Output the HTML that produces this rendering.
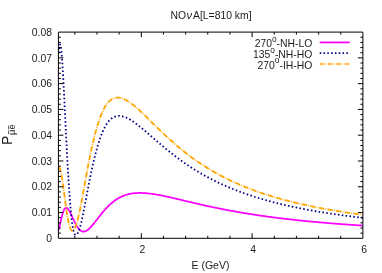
<!DOCTYPE html><html><head><meta charset="utf-8"><style>html,body{margin:0;padding:0;background:#fff}svg{display:block}text{font-family:"Liberation Sans",sans-serif;fill:#1c1c1c}</style></head><body><div style="will-change:transform;width:382px;height:273px">
<svg width="382" height="273" viewBox="0 0 382 273">
<rect width="382" height="273" fill="#fff"/>
<clipPath id="c"><rect x="58.4" y="32.1" width="304.5" height="206.20000000000002"/></clipPath>
<g clip-path="url(#c)" fill="none" stroke-linejoin="round">
<path d="M58.40,230.32 L58.52,230.00 L58.64,229.65 L58.76,229.29 L58.88,228.90 L59.00,228.49 L59.12,228.06 L59.24,227.61 L59.36,227.15 L59.48,226.68 L59.60,226.19 L59.72,225.69 L59.84,225.19 L59.96,224.67 L60.08,224.15 L60.20,223.62 L60.32,223.09 L60.44,222.56 L60.56,222.02 L60.68,221.49 L60.80,220.95 L60.92,220.42 L61.04,219.89 L61.16,219.36 L61.28,218.84 L61.40,218.33 L61.52,217.82 L61.64,217.32 L61.76,216.83 L61.88,216.35 L62.00,215.87 L62.12,215.41 L62.24,214.96 L62.36,214.51 L62.48,214.09 L62.60,213.67 L62.72,213.26 L62.85,212.87 L62.97,212.49 L63.09,212.13 L63.21,211.78 L63.33,211.44 L63.45,211.12 L63.58,210.82 L63.70,210.52 L63.82,210.25 L63.95,209.98 L64.07,209.74 L64.19,209.50 L64.32,209.29 L64.44,209.08 L64.56,208.89 L64.69,208.72 L64.81,208.56 L64.93,208.42 L65.06,208.29 L65.18,208.17 L65.31,208.07 L65.43,207.99 L65.56,207.91 L65.68,207.85 L65.81,207.81 L65.93,207.77 L66.06,207.75 L66.18,207.74 L66.31,207.75 L66.44,207.77 L66.56,207.80 L66.69,207.84 L66.81,207.89 L66.94,207.95 L67.07,208.02 L67.19,208.11 L67.32,208.20 L67.45,208.31 L67.57,208.42 L67.70,208.55 L67.83,208.68 L67.95,208.82 L68.08,208.97 L68.21,209.13 L68.33,209.30 L68.46,209.47 L68.59,209.65 L68.72,209.84 L68.84,210.04 L68.97,210.24 L69.10,210.45 L69.23,210.66 L69.35,210.88 L69.48,211.11 L69.61,211.34 L69.74,211.57 L69.86,211.81 L69.99,212.05 L70.12,212.30 L70.25,212.55 L70.38,212.81 L70.50,213.07 L70.63,213.33 L70.76,213.59 L70.89,213.86 L71.02,214.13 L71.14,214.40 L71.27,214.68 L71.40,214.95 L71.53,215.23 L71.66,215.51 L71.78,215.79 L71.91,216.07 L72.04,216.35 L72.17,216.63 L72.30,216.91 L72.42,217.20 L72.55,217.48 L72.68,217.76 L72.81,218.04 L72.94,218.32 L73.06,218.61 L73.19,218.89 L73.32,219.16 L73.45,219.44 L73.57,219.72 L73.70,219.99 L73.83,220.27 L73.96,220.54 L74.08,220.81 L74.21,221.08 L74.34,221.35 L74.47,221.61 L74.59,221.87 L74.72,222.13 L74.85,222.39 L74.97,222.64 L75.10,222.90 L75.23,223.15 L75.35,223.39 L75.48,223.64 L75.61,223.88 L75.73,224.12 L75.86,224.35 L75.99,224.58 L76.11,224.81 L76.24,225.04 L76.36,225.26 L76.49,225.48 L76.62,225.69 L76.74,225.90 L76.87,226.11 L76.99,226.31 L77.12,226.51 L77.24,226.71 L77.37,226.90 L77.49,227.09 L77.62,227.28 L77.74,227.46 L77.87,227.64 L77.99,227.81 L78.11,227.98 L78.24,228.15 L78.36,228.31 L78.48,228.47 L78.61,228.62 L78.73,228.77 L78.85,228.92 L78.98,229.06 L79.10,229.20 L79.22,229.33 L79.35,229.46 L79.47,229.59 L79.59,229.71 L79.71,229.83 L79.83,229.94 L79.95,230.05 L80.08,230.16 L80.20,230.26 L80.32,230.36 L80.44,230.45 L80.56,230.54 L80.68,230.63 L80.80,230.71 L80.92,230.79 L81.04,230.86 L81.16,230.94 L81.28,231.00 L81.40,231.07 L81.52,231.13 L81.64,231.18 L81.76,231.24 L81.88,231.28 L82.00,231.33 L82.12,231.37 L82.24,231.41 L82.36,231.44 L82.48,231.47 L82.60,231.50 L82.72,231.53 L82.84,231.55 L82.96,231.56 L83.08,231.58 L83.20,231.59 L83.32,231.59 L83.44,231.60 L83.56,231.60 L83.68,231.60 L83.80,231.59 L83.92,231.58 L84.04,231.57 L84.16,231.55 L84.28,231.54 L84.40,231.51 L84.52,231.49 L84.64,231.46 L84.76,231.43 L84.88,231.40 L85.00,231.37 L85.12,231.33 L85.24,231.29 L85.36,231.24 L85.48,231.20 L85.60,231.15 L85.72,231.10 L85.84,231.04 L85.96,230.99 L86.08,230.93 L86.20,230.87 L86.32,230.80 L86.44,230.74 L86.56,230.67 L86.68,230.60 L86.80,230.52 L86.92,230.45 L87.04,230.37 L87.16,230.29 L87.28,230.21 L87.40,230.13 L87.52,230.04 L87.64,229.95 L87.76,229.86 L87.88,229.77 L88.00,229.68 L88.12,229.58 L88.24,229.49 L88.36,229.39 L88.48,229.29 L88.60,229.18 L88.72,229.08 L88.84,228.98 L88.96,228.87 L89.08,228.76 L89.20,228.65 L89.32,228.54 L89.44,228.42 L89.56,228.31 L89.68,228.19 L89.80,228.07 L89.92,227.96 L90.04,227.84 L90.16,227.71 L90.28,227.59 L90.40,227.47 L90.52,227.34 L90.64,227.21 L90.76,227.09 L90.88,226.96 L91.00,226.83 L91.12,226.70 L91.24,226.56 L91.36,226.43 L91.48,226.30 L91.60,226.16 L91.72,226.03 L91.84,225.89 L91.96,225.75 L92.08,225.61 L92.20,225.47 L92.32,225.33 L92.44,225.19 L92.56,225.05 L92.68,224.91 L92.80,224.77 L92.92,224.62 L93.04,224.48 L93.16,224.33 L93.28,224.19 L93.40,224.04 L93.52,223.89 L93.64,223.75 L93.76,223.60 L93.88,223.45 L94.00,223.30 L94.12,223.15 L94.24,223.00 L94.36,222.85 L94.48,222.70 L94.60,222.55 L94.72,222.40 L94.84,222.25 L94.96,222.10 L95.08,221.94 L95.20,221.79 L95.32,221.64 L95.44,221.49 L95.56,221.33 L95.68,221.18 L95.80,221.02 L95.92,220.87 L96.04,220.72 L96.16,220.56 L96.28,220.41 L96.40,220.25 L96.52,220.10 L96.64,219.95 L96.76,219.79 L96.88,219.64 L97.00,219.48 L97.12,219.33 L97.24,219.17 L97.36,219.02 L97.48,218.86 L97.60,218.71 L97.72,218.55 L97.84,218.40 L97.96,218.24 L98.08,218.09 L98.20,217.94 L98.32,217.78 L98.44,217.63 L98.56,217.47 L98.68,217.32 L98.80,217.17 L98.92,217.01 L99.04,216.86 L99.16,216.71 L99.28,216.55 L99.40,216.40 L99.52,216.25 L99.64,216.10 L99.76,215.94 L99.88,215.79 L100.00,215.64 L100.12,215.49 L100.24,215.34 L100.36,215.19 L100.48,215.04 L100.60,214.89 L100.72,214.74 L100.80,214.64 L101.60,213.65 L102.40,212.68 L103.20,211.73 L104.00,210.80 L104.80,209.88 L105.60,209.00 L106.40,208.13 L107.20,207.29 L108.00,206.48 L108.80,205.69 L109.60,204.93 L110.40,204.19 L111.20,203.48 L112.00,202.80 L112.80,202.14 L113.60,201.51 L114.40,200.90 L115.20,200.32 L116.00,199.77 L116.80,199.24 L117.60,198.74 L118.40,198.26 L119.20,197.80 L120.00,197.37 L120.80,196.97 L121.60,196.58 L122.40,196.22 L123.20,195.88 L124.00,195.57 L124.80,195.27 L125.60,195.00 L126.40,194.74 L127.20,194.51 L127.99,194.29 L128.79,194.10 L129.58,193.92 L130.37,193.76 L131.16,193.62 L131.95,193.49 L132.74,193.38 L133.52,193.28 L134.30,193.20 L135.09,193.13 L135.87,193.08 L136.65,193.04 L137.43,193.00 L138.21,192.98 L138.99,192.97 L139.77,192.97 L140.55,192.98 L141.32,192.99 L142.10,193.02 L142.88,193.05 L143.65,193.09 L144.43,193.13 L145.21,193.19 L145.98,193.24 L146.76,193.31 L147.53,193.38 L148.31,193.45 L149.09,193.53 L149.86,193.62 L150.64,193.71 L151.42,193.81 L152.20,193.91 L152.98,194.02 L153.76,194.13 L154.54,194.25 L155.32,194.37 L156.10,194.50 L156.89,194.63 L157.67,194.76 L158.46,194.90 L159.25,195.05 L160.03,195.20 L160.82,195.35 L161.62,195.50 L162.41,195.66 L163.20,195.82 L164.00,195.99 L164.80,196.16 L165.60,196.33 L166.40,196.50 L167.20,196.67 L168.00,196.85 L168.80,197.03 L169.60,197.21 L170.40,197.39 L171.20,197.57 L172.00,197.76 L172.80,197.94 L173.60,198.13 L174.40,198.32 L175.20,198.50 L176.00,198.69 L176.80,198.88 L177.60,199.07 L178.40,199.26 L179.20,199.45 L180.00,199.64 L180.80,199.83 L181.60,200.02 L182.40,200.22 L183.20,200.41 L184.00,200.60 L184.80,200.79 L185.60,200.98 L186.40,201.17 L187.20,201.36 L188.00,201.55 L188.80,201.74 L189.60,201.93 L190.40,202.12 L191.20,202.31 L192.00,202.50 L192.80,202.68 L193.60,202.87 L194.40,203.06 L195.20,203.24 L196.00,203.43 L196.80,203.61 L197.60,203.80 L198.40,203.98 L199.20,204.17 L200.00,204.35 L200.80,204.53 L201.60,204.71 L202.40,204.89 L203.20,205.07 L204.00,205.25 L204.80,205.43 L205.60,205.60 L206.40,205.78 L207.20,205.95 L208.00,206.13 L208.80,206.30 L209.60,206.47 L210.40,206.65 L211.20,206.82 L212.00,206.99 L212.80,207.16 L213.60,207.32 L214.40,207.49 L215.20,207.66 L216.00,207.82 L216.80,207.99 L217.60,208.15 L218.40,208.32 L219.20,208.48 L220.00,208.64 L220.80,208.80 L221.60,208.96 L222.40,209.12 L223.20,209.27 L224.00,209.43 L224.80,209.58 L225.60,209.74 L226.40,209.89 L227.20,210.04 L228.00,210.20 L228.80,210.35 L229.60,210.50 L230.40,210.65 L231.20,210.79 L232.00,210.94 L232.80,211.09 L233.60,211.23 L234.40,211.38 L235.20,211.52 L236.00,211.66 L236.80,211.80 L237.60,211.94 L238.40,212.08 L239.20,212.22 L240.00,212.36 L240.80,212.50 L241.60,212.63 L242.40,212.77 L243.20,212.90 L244.00,213.04 L244.80,213.17 L245.60,213.30 L246.40,213.43 L247.20,213.56 L248.00,213.69 L248.80,213.82 L249.60,213.94 L250.40,214.07 L251.20,214.20 L252.00,214.32 L252.80,214.45 L253.60,214.57 L254.40,214.69 L255.20,214.81 L256.00,214.93 L256.80,215.05 L257.60,215.17 L258.40,215.29 L259.20,215.41 L260.00,215.53 L260.80,215.64 L261.60,215.76 L262.40,215.87 L263.20,215.98 L264.00,216.10 L264.80,216.21 L265.60,216.32 L266.40,216.43 L267.20,216.54 L268.00,216.65 L268.80,216.76 L269.60,216.87 L270.40,216.97 L271.20,217.08 L272.00,217.19 L272.80,217.29 L273.60,217.39 L274.40,217.50 L275.20,217.60 L276.00,217.70 L276.80,217.80 L277.60,217.90 L278.40,218.00 L279.20,218.10 L280.00,218.20 L280.80,218.30 L281.60,218.40 L282.40,218.49 L283.20,218.59 L284.00,218.69 L284.80,218.78 L285.60,218.87 L286.40,218.97 L287.20,219.06 L288.00,219.15 L288.80,219.24 L289.60,219.33 L290.40,219.43 L291.20,219.52 L292.00,219.60 L292.80,219.69 L293.60,219.78 L294.40,219.87 L295.20,219.96 L296.00,220.04 L296.80,220.13 L297.60,220.21 L298.40,220.30 L299.20,220.38 L300.00,220.46 L300.80,220.55 L301.60,220.63 L302.40,220.71 L303.20,220.79 L304.00,220.87 L304.80,220.95 L305.60,221.03 L306.40,221.11 L307.20,221.19 L308.00,221.27 L308.80,221.35 L309.60,221.42 L310.40,221.50 L311.20,221.58 L312.00,221.65 L312.80,221.73 L313.60,221.80 L314.40,221.88 L315.20,221.95 L316.00,222.02 L316.80,222.10 L317.60,222.17 L318.40,222.24 L319.20,222.31 L320.00,222.38 L320.80,222.45 L321.60,222.52 L322.40,222.59 L323.20,222.66 L324.00,222.73 L324.80,222.80 L325.60,222.87 L326.40,222.93 L327.20,223.00 L328.00,223.07 L328.80,223.13 L329.60,223.20 L330.40,223.27 L331.20,223.33 L332.00,223.40 L332.80,223.46 L333.60,223.52 L334.40,223.59 L335.20,223.65 L336.00,223.71 L336.80,223.77 L337.60,223.84 L338.40,223.90 L339.20,223.96 L340.00,224.02 L340.80,224.08 L341.60,224.14 L342.40,224.20 L343.20,224.26 L344.00,224.32 L344.80,224.37 L345.60,224.43 L346.40,224.49 L347.20,224.55 L348.00,224.60 L348.80,224.66 L349.60,224.72 L350.40,224.77 L351.20,224.83 L352.00,224.88 L352.80,224.94 L353.60,224.99 L354.40,225.05 L355.20,225.10 L356.00,225.16 L356.80,225.21 L357.60,225.26 L358.40,225.31 L359.20,225.37 L360.00,225.42 L360.80,225.47 L361.60,225.52 L362.40,225.57 L362.90,225.60" stroke="#ff00ff" stroke-width="1.75"/>
<path d="M58.40,55.30 L58.52,53.53 L58.66,51.93 L58.80,50.50 L58.94,49.22 L59.09,48.10 L59.25,47.13 L59.40,46.32 L59.55,45.66 L59.71,45.15 L59.85,44.78 L60.00,44.55 L60.13,44.47 L60.26,44.51 L60.38,44.69 L60.50,45.00 L60.62,45.43 L60.74,45.98 L60.86,46.65 L60.98,47.44 L61.10,48.33 L61.22,49.32 L61.34,50.42 L61.46,51.62 L61.58,52.90 L61.70,54.28 L61.82,55.74 L61.94,57.29 L62.06,58.91 L62.18,60.61 L62.30,62.37 L62.42,64.21 L62.54,66.10 L62.66,68.06 L62.78,70.07 L62.90,72.13 L63.02,74.24 L63.14,76.40 L63.26,78.60 L63.38,80.84 L63.50,83.11 L63.62,85.41 L63.74,87.75 L63.86,90.11 L63.98,92.50 L64.10,94.90 L64.22,97.33 L64.34,99.76 L64.46,102.22 L64.58,104.68 L64.70,107.15 L64.82,109.63 L64.94,112.11 L65.06,114.59 L65.18,117.08 L65.30,119.56 L65.42,122.03 L65.54,124.50 L65.66,126.96 L65.78,129.41 L65.90,131.85 L66.02,134.28 L66.14,136.69 L66.26,139.08 L66.38,141.46 L66.50,143.82 L66.62,146.16 L66.74,148.48 L66.86,150.78 L66.98,153.05 L67.10,155.30 L67.22,157.53 L67.34,159.73 L67.46,161.90 L67.58,164.04 L67.70,166.16 L67.82,168.25 L67.94,170.30 L68.06,172.33 L68.18,174.33 L68.30,176.29 L68.42,178.22 L68.54,180.12 L68.66,181.99 L68.77,183.83 L68.89,185.63 L69.01,187.40 L69.12,189.13 L69.24,190.83 L69.35,192.50 L69.47,194.13 L69.58,195.73 L69.70,197.29 L69.81,198.82 L69.92,200.31 L70.04,201.77 L70.15,203.20 L70.26,204.59 L70.37,205.94 L70.48,207.27 L70.59,208.55 L70.71,209.81 L70.82,211.02 L70.93,212.21 L71.04,213.36 L71.15,214.48 L71.26,215.56 L71.37,216.61 L71.48,217.63 L71.59,218.61 L71.71,219.57 L71.82,220.49 L71.93,221.37 L72.04,222.23 L72.15,223.06 L72.26,223.85 L72.38,224.61 L72.49,225.35 L72.60,226.05 L72.72,226.72 L72.83,227.37 L72.95,227.98 L73.06,228.57 L73.18,229.13 L73.29,229.66 L73.41,230.16 L73.53,230.64 L73.64,231.08 L73.76,231.51 L73.88,231.90 L74.00,232.27 L74.12,232.62 L74.24,232.93 L74.36,233.23 L74.48,233.50 L74.60,233.75 L74.72,233.97 L74.84,234.17 L74.96,234.35 L75.08,234.50 L75.20,234.63 L75.32,234.75 L75.44,234.84 L75.56,234.91 L75.68,234.95 L75.80,234.98 L75.92,234.99 L76.04,234.98 L76.16,234.95 L76.28,234.91 L76.41,234.84 L76.53,234.76 L76.65,234.66 L76.78,234.54 L76.90,234.40 L77.03,234.25 L77.16,234.08 L77.28,233.90 L77.41,233.70 L77.54,233.49 L77.67,233.26 L77.80,233.01 L77.93,232.76 L78.06,232.49 L78.19,232.20 L78.32,231.91 L78.45,231.60 L78.58,231.27 L78.72,230.94 L78.85,230.59 L78.98,230.23 L79.11,229.86 L79.24,229.48 L79.38,229.09 L79.51,228.69 L79.64,228.28 L79.77,227.86 L79.90,227.43 L80.03,226.99 L80.17,226.54 L80.30,226.08 L80.43,225.62 L80.56,225.14 L80.69,224.66 L80.82,224.17 L80.94,223.67 L81.07,223.17 L81.20,222.65 L81.33,222.14 L81.45,221.61 L81.58,221.08 L81.71,220.54 L81.83,220.00 L81.95,219.45 L82.08,218.89 L82.20,218.33 L82.32,217.77 L82.44,217.20 L82.56,216.62 L82.68,216.05 L82.80,215.46 L82.92,214.88 L83.04,214.28 L83.16,213.69 L83.28,213.09 L83.40,212.49 L83.52,211.88 L83.64,211.28 L83.76,210.67 L83.88,210.05 L84.00,209.44 L84.12,208.82 L84.24,208.20 L84.36,207.58 L84.48,206.95 L84.60,206.32 L84.72,205.70 L84.84,205.07 L84.96,204.44 L85.08,203.81 L85.20,203.17 L85.32,202.54 L85.44,201.90 L85.56,201.27 L85.68,200.63 L85.80,199.99 L85.92,199.36 L86.04,198.72 L86.16,198.08 L86.28,197.45 L86.40,196.81 L86.52,196.17 L86.64,195.53 L86.76,194.90 L86.88,194.26 L87.00,193.62 L87.12,192.99 L87.24,192.35 L87.36,191.72 L87.48,191.09 L87.60,190.46 L87.72,189.83 L87.84,189.20 L87.96,188.57 L88.08,187.94 L88.20,187.32 L88.32,186.69 L88.44,186.07 L88.56,185.45 L88.68,184.83 L88.80,184.21 L88.92,183.59 L89.04,182.98 L89.16,182.37 L89.28,181.76 L89.40,181.15 L89.52,180.54 L89.64,179.94 L89.76,179.34 L89.88,178.74 L90.00,178.14 L90.12,177.54 L90.24,176.95 L90.36,176.36 L90.48,175.77 L90.60,175.19 L90.72,174.60 L90.84,174.02 L90.96,173.44 L91.08,172.87 L91.20,172.30 L91.32,171.73 L91.44,171.16 L91.56,170.59 L91.68,170.03 L91.80,169.47 L91.92,168.92 L92.04,168.36 L92.16,167.81 L92.28,167.27 L92.40,166.72 L92.52,166.18 L92.64,165.64 L92.76,165.11 L92.88,164.57 L93.00,164.04 L93.12,163.52 L93.24,162.99 L93.36,162.47 L93.48,161.96 L93.60,161.44 L93.72,160.93 L93.84,160.42 L93.96,159.92 L94.08,159.42 L94.20,158.92 L94.32,158.43 L94.44,157.93 L94.56,157.45 L94.68,156.96 L94.80,156.48 L94.92,156.00 L95.04,155.53 L95.16,155.05 L95.28,154.58 L95.40,154.12 L95.52,153.66 L95.64,153.20 L95.76,152.74 L95.88,152.29 L96.00,151.84 L96.12,151.40 L96.24,150.95 L96.36,150.51 L96.48,150.08 L96.60,149.65 L96.72,149.22 L96.84,148.79 L96.96,148.37 L97.08,147.95 L97.20,147.53 L97.32,147.12 L97.44,146.71 L97.56,146.30 L97.68,145.90 L97.80,145.50 L97.92,145.11 L98.04,144.71 L98.16,144.32 L98.28,143.94 L98.40,143.55 L98.52,143.17 L98.64,142.80 L98.76,142.42 L98.88,142.05 L99.00,141.69 L99.12,141.32 L99.24,140.96 L99.35,140.60 L99.47,140.25 L99.59,139.90 L99.71,139.55 L99.83,139.21 L99.95,138.86 L100.06,138.52 L100.18,138.19 L100.30,137.86 L100.38,137.64 L101.16,135.52 L101.93,133.53 L102.71,131.67 L103.48,129.94 L104.24,128.34 L105.01,126.85 L105.77,125.48 L106.54,124.22 L107.31,123.07 L108.08,122.02 L108.85,121.06 L109.63,120.21 L110.41,119.44 L111.20,118.76 L112.00,118.16 L112.80,117.64 L113.60,117.20 L114.40,116.82 L115.20,116.52 L116.00,116.28 L116.80,116.10 L117.60,115.98 L118.40,115.91 L119.20,115.90 L120.00,115.93 L120.80,116.01 L121.60,116.14 L122.40,116.31 L123.20,116.52 L124.00,116.76 L124.80,117.04 L125.60,117.36 L126.40,117.70 L127.20,118.07 L128.00,118.47 L128.80,118.90 L129.60,119.35 L130.40,119.82 L131.20,120.31 L132.00,120.82 L132.80,121.36 L133.60,121.90 L134.40,122.47 L135.20,123.04 L136.00,123.63 L136.80,124.24 L137.60,124.85 L138.40,125.47 L139.20,126.11 L140.00,126.75 L140.80,127.40 L141.60,128.06 L142.40,128.72 L143.20,129.39 L144.00,130.07 L144.80,130.75 L145.60,131.43 L146.40,132.12 L147.20,132.80 L148.00,133.50 L148.80,134.19 L149.60,134.88 L150.40,135.58 L151.20,136.27 L152.00,136.97 L152.80,137.67 L153.60,138.36 L154.40,139.06 L155.20,139.75 L156.00,140.44 L156.80,141.13 L157.60,141.82 L158.40,142.51 L159.20,143.19 L160.00,143.88 L160.80,144.55 L161.60,145.23 L162.40,145.90 L163.20,146.57 L164.00,147.24 L164.80,147.91 L165.60,148.57 L166.40,149.22 L167.20,149.87 L168.00,150.52 L168.80,151.17 L169.60,151.81 L170.40,152.45 L171.20,153.08 L172.00,153.71 L172.80,154.33 L173.60,154.95 L174.40,155.57 L175.20,156.18 L176.00,156.79 L176.80,157.39 L177.60,157.99 L178.40,158.58 L179.20,159.17 L180.00,159.75 L180.80,160.33 L181.60,160.91 L182.40,161.48 L183.20,162.04 L184.00,162.60 L184.80,163.16 L185.60,163.71 L186.40,164.26 L187.20,164.80 L188.00,165.34 L188.80,165.88 L189.60,166.41 L190.40,166.93 L191.20,167.45 L192.00,167.97 L192.80,168.48 L193.60,168.98 L194.40,169.49 L195.20,169.99 L196.00,170.48 L196.80,170.97 L197.60,171.45 L198.40,171.93 L199.20,172.41 L200.00,172.88 L200.80,173.35 L201.60,173.81 L202.40,174.27 L203.20,174.73 L204.00,175.18 L204.80,175.63 L205.60,176.07 L206.40,176.51 L207.20,176.95 L208.00,177.38 L208.80,177.81 L209.60,178.23 L210.40,178.65 L211.20,179.07 L212.00,179.48 L212.80,179.89 L213.60,180.29 L214.40,180.69 L215.20,181.09 L216.00,181.48 L216.80,181.87 L217.60,182.26 L218.40,182.64 L219.20,183.02 L220.00,183.40 L220.80,183.77 L221.60,184.14 L222.40,184.51 L223.20,184.87 L224.00,185.23 L224.80,185.59 L225.60,185.94 L226.40,186.29 L227.20,186.64 L228.00,186.98 L228.80,187.32 L229.60,187.66 L230.40,187.99 L231.20,188.32 L232.00,188.65 L232.80,188.98 L233.60,189.30 L234.40,189.62 L235.20,189.94 L236.00,190.25 L236.80,190.56 L237.60,190.87 L238.40,191.17 L239.20,191.48 L240.00,191.78 L240.80,192.07 L241.60,192.37 L242.40,192.66 L243.20,192.95 L244.00,193.24 L244.80,193.52 L245.60,193.80 L246.40,194.08 L247.20,194.36 L248.00,194.64 L248.80,194.91 L249.60,195.18 L250.40,195.45 L251.20,195.71 L252.00,195.97 L252.80,196.23 L253.60,196.49 L254.40,196.75 L255.20,197.00 L256.00,197.25 L256.80,197.50 L257.60,197.75 L258.40,198.00 L259.20,198.24 L260.00,198.48 L260.80,198.72 L261.60,198.96 L262.40,199.19 L263.20,199.42 L264.00,199.66 L264.80,199.89 L265.60,200.11 L266.40,200.34 L267.20,200.56 L268.00,200.78 L268.80,201.00 L269.60,201.22 L270.40,201.44 L271.20,201.65 L272.00,201.86 L272.80,202.07 L273.60,202.28 L274.40,202.49 L275.20,202.69 L276.00,202.90 L276.80,203.10 L277.60,203.30 L278.40,203.50 L279.20,203.70 L280.00,203.89 L280.80,204.09 L281.60,204.28 L282.40,204.47 L283.20,204.66 L284.00,204.85 L284.80,205.03 L285.60,205.22 L286.40,205.40 L287.20,205.58 L288.00,205.76 L288.80,205.94 L289.60,206.12 L290.40,206.29 L291.20,206.47 L292.00,206.64 L292.80,206.81 L293.60,206.98 L294.40,207.15 L295.20,207.32 L296.00,207.49 L296.80,207.65 L297.60,207.82 L298.40,207.98 L299.20,208.14 L300.00,208.30 L300.80,208.46 L301.60,208.62 L302.40,208.77 L303.20,208.93 L304.00,209.08 L304.80,209.24 L305.60,209.39 L306.40,209.54 L307.20,209.69 L308.00,209.84 L308.80,209.98 L309.60,210.13 L310.40,210.28 L311.20,210.42 L312.00,210.56 L312.80,210.70 L313.60,210.84 L314.40,210.98 L315.20,211.12 L316.00,211.26 L316.80,211.40 L317.60,211.53 L318.40,211.67 L319.20,211.80 L320.00,211.93 L320.80,212.06 L321.60,212.20 L322.40,212.32 L323.20,212.45 L324.00,212.58 L324.80,212.71 L325.60,212.83 L326.40,212.96 L327.20,213.08 L328.00,213.21 L328.80,213.33 L329.60,213.45 L330.40,213.57 L331.20,213.69 L332.00,213.81 L332.80,213.93 L333.60,214.04 L334.40,214.16 L335.20,214.28 L336.00,214.39 L336.80,214.50 L337.60,214.62 L338.40,214.73 L339.20,214.84 L340.00,214.95 L340.80,215.06 L341.60,215.17 L342.40,215.28 L343.20,215.39 L344.00,215.49 L344.80,215.60 L345.60,215.71 L346.40,215.81 L347.20,215.91 L348.00,216.02 L348.80,216.12 L349.60,216.22 L350.40,216.32 L351.20,216.42 L352.00,216.52 L352.80,216.62 L353.60,216.72 L354.40,216.82 L355.20,216.92 L356.00,217.01 L356.80,217.11 L357.60,217.20 L358.40,217.30 L359.20,217.39 L360.00,217.48 L360.80,217.58 L361.60,217.67 L362.40,217.76 L362.90,217.82" stroke="#00008b" stroke-width="1.8" stroke-dasharray="1.55 2.35" stroke-dashoffset="1.6"/>
<path d="M58.40,168.45 L58.52,168.22 L58.64,168.02 L58.76,167.87 L58.88,167.76 L59.00,167.69 L59.12,167.67 L59.24,167.68 L59.36,167.74 L59.48,167.84 L59.60,167.97 L59.72,168.15 L59.84,168.36 L59.96,168.61 L60.08,168.90 L60.20,169.22 L60.32,169.58 L60.44,169.97 L60.56,170.39 L60.68,170.85 L60.80,171.34 L60.92,171.86 L61.04,172.41 L61.16,172.98 L61.28,173.58 L61.40,174.21 L61.52,174.86 L61.64,175.54 L61.76,176.24 L61.88,176.96 L62.00,177.70 L62.12,178.46 L62.24,179.24 L62.36,180.03 L62.48,180.84 L62.60,181.67 L62.72,182.51 L62.84,183.36 L62.96,184.22 L63.08,185.10 L63.20,185.98 L63.32,186.87 L63.44,187.77 L63.56,188.68 L63.68,189.59 L63.80,190.51 L63.92,191.43 L64.04,192.35 L64.16,193.27 L64.28,194.20 L64.40,195.12 L64.52,196.04 L64.64,196.97 L64.76,197.88 L64.88,198.80 L65.00,199.71 L65.12,200.62 L65.24,201.52 L65.36,202.42 L65.48,203.31 L65.60,204.19 L65.72,205.06 L65.84,205.93 L65.96,206.78 L66.08,207.63 L66.20,208.47 L66.32,209.29 L66.44,210.11 L66.56,210.91 L66.68,211.70 L66.80,212.47 L66.92,213.24 L67.04,213.99 L67.16,214.73 L67.28,215.45 L67.40,216.16 L67.52,216.85 L67.64,217.53 L67.76,218.19 L67.88,218.84 L68.00,219.47 L68.12,220.09 L68.24,220.69 L68.36,221.27 L68.48,221.84 L68.60,222.39 L68.72,222.92 L68.84,223.43 L68.96,223.93 L69.08,224.41 L69.20,224.88 L69.32,225.33 L69.44,225.76 L69.56,226.17 L69.68,226.56 L69.80,226.94 L69.92,227.30 L70.04,227.64 L70.16,227.96 L70.28,228.27 L70.40,228.56 L70.52,228.83 L70.64,229.09 L70.76,229.32 L70.88,229.54 L71.00,229.75 L71.12,229.93 L71.24,230.10 L71.36,230.25 L71.48,230.39 L71.60,230.50 L71.72,230.61 L71.84,230.69 L71.96,230.76 L72.08,230.81 L72.20,230.85 L72.32,230.87 L72.44,230.88 L72.56,230.87 L72.68,230.84 L72.80,230.80 L72.92,230.74 L73.04,230.67 L73.16,230.59 L73.28,230.49 L73.40,230.37 L73.52,230.24 L73.64,230.10 L73.76,229.94 L73.88,229.77 L74.00,229.59 L74.12,229.39 L74.24,229.18 L74.36,228.96 L74.49,228.72 L74.61,228.47 L74.74,228.21 L74.86,227.94 L74.99,227.65 L75.11,227.36 L75.24,227.05 L75.37,226.73 L75.50,226.40 L75.63,226.06 L75.76,225.71 L75.89,225.35 L76.02,224.97 L76.15,224.59 L76.28,224.20 L76.41,223.80 L76.54,223.39 L76.67,222.96 L76.80,222.53 L76.94,222.10 L77.07,221.65 L77.20,221.19 L77.33,220.73 L77.46,220.26 L77.60,219.78 L77.73,219.29 L77.86,218.79 L77.99,218.29 L78.12,217.78 L78.25,217.27 L78.38,216.74 L78.51,216.21 L78.64,215.68 L78.77,215.13 L78.90,214.59 L79.03,214.03 L79.16,213.47 L79.29,212.90 L79.41,212.33 L79.54,211.76 L79.66,211.18 L79.79,210.59 L79.91,210.00 L80.04,209.40 L80.16,208.80 L80.28,208.20 L80.40,207.59 L80.52,206.98 L80.64,206.37 L80.76,205.75 L80.88,205.12 L81.00,204.50 L81.12,203.87 L81.24,203.24 L81.36,202.60 L81.48,201.96 L81.60,201.32 L81.72,200.68 L81.84,200.04 L81.96,199.39 L82.08,198.74 L82.20,198.09 L82.32,197.43 L82.44,196.78 L82.56,196.12 L82.68,195.46 L82.80,194.81 L82.92,194.14 L83.04,193.48 L83.16,192.82 L83.28,192.16 L83.40,191.49 L83.52,190.83 L83.64,190.16 L83.76,189.50 L83.88,188.83 L84.00,188.16 L84.12,187.50 L84.24,186.83 L84.36,186.16 L84.48,185.50 L84.60,184.83 L84.72,184.16 L84.84,183.50 L84.96,182.83 L85.08,182.17 L85.20,181.50 L85.32,180.84 L85.44,180.18 L85.56,179.51 L85.68,178.85 L85.80,178.19 L85.92,177.53 L86.04,176.88 L86.16,176.22 L86.28,175.56 L86.40,174.91 L86.52,174.26 L86.64,173.61 L86.76,172.96 L86.88,172.31 L87.00,171.66 L87.12,171.02 L87.24,170.38 L87.36,169.73 L87.48,169.10 L87.60,168.46 L87.72,167.82 L87.84,167.19 L87.96,166.56 L88.08,165.93 L88.20,165.30 L88.32,164.68 L88.44,164.06 L88.56,163.44 L88.68,162.82 L88.80,162.21 L88.92,161.59 L89.04,160.98 L89.16,160.37 L89.28,159.77 L89.40,159.17 L89.52,158.57 L89.64,157.97 L89.76,157.38 L89.88,156.78 L90.00,156.19 L90.12,155.61 L90.24,155.02 L90.36,154.44 L90.48,153.87 L90.60,153.29 L90.72,152.72 L90.84,152.15 L90.96,151.58 L91.08,151.02 L91.20,150.46 L91.32,149.90 L91.44,149.35 L91.56,148.80 L91.68,148.25 L91.80,147.70 L91.92,147.16 L92.04,146.62 L92.16,146.09 L92.28,145.56 L92.40,145.03 L92.52,144.50 L92.64,143.98 L92.76,143.46 L92.88,142.94 L93.00,142.43 L93.12,141.92 L93.24,141.41 L93.36,140.91 L93.48,140.41 L93.60,139.91 L93.72,139.42 L93.84,138.93 L93.96,138.44 L94.08,137.96 L94.20,137.48 L94.32,137.00 L94.44,136.52 L94.56,136.05 L94.68,135.59 L94.80,135.12 L94.92,134.66 L95.04,134.21 L95.16,133.75 L95.28,133.30 L95.40,132.85 L95.52,132.41 L95.64,131.97 L95.76,131.53 L95.88,131.10 L96.00,130.67 L96.12,130.24 L96.24,129.82 L96.36,129.39 L96.48,128.98 L96.60,128.56 L96.72,128.15 L96.84,127.74 L96.96,127.34 L97.08,126.94 L97.20,126.54 L97.32,126.15 L97.43,125.76 L97.55,125.37 L97.67,124.98 L97.79,124.60 L97.91,124.22 L98.02,123.85 L98.14,123.48 L98.26,123.11 L98.38,122.74 L98.50,122.38 L98.61,122.02 L98.73,121.67 L98.85,121.32 L98.96,120.97 L99.08,120.62 L99.20,120.28 L99.31,119.94 L99.43,119.60 L99.55,119.27 L99.66,118.94 L99.78,118.61 L99.90,118.29 L100.01,117.97 L100.13,117.65 L100.24,117.33 L100.32,117.13 L101.09,115.12 L101.86,113.24 L102.63,111.50 L103.39,109.87 L104.16,108.37 L104.92,106.99 L105.69,105.72 L106.47,104.56 L107.24,103.50 L108.02,102.55 L108.81,101.69 L109.60,100.92 L110.40,100.25 L111.20,99.66 L112.00,99.15 L112.80,98.72 L113.60,98.36 L114.40,98.08 L115.20,97.86 L116.00,97.71 L116.80,97.61 L117.60,97.58 L118.40,97.60 L119.20,97.67 L120.00,97.80 L120.80,97.96 L121.60,98.18 L122.40,98.43 L123.20,98.73 L124.00,99.06 L124.80,99.43 L125.60,99.83 L126.40,100.27 L127.20,100.73 L128.00,101.22 L128.80,101.74 L129.60,102.28 L130.40,102.84 L131.20,103.42 L132.00,104.03 L132.80,104.65 L133.60,105.29 L134.40,105.94 L135.20,106.61 L136.00,107.30 L136.80,107.99 L137.60,108.70 L138.40,109.42 L139.20,110.15 L140.00,110.88 L140.80,111.63 L141.60,112.38 L142.40,113.14 L143.20,113.90 L144.00,114.67 L144.80,115.44 L145.60,116.22 L146.40,117.00 L147.20,117.78 L148.00,118.57 L148.80,119.36 L149.60,120.14 L150.40,120.93 L151.20,121.72 L152.00,122.51 L152.80,123.30 L153.60,124.09 L154.40,124.88 L155.20,125.66 L156.00,126.45 L156.80,127.23 L157.60,128.01 L158.40,128.79 L159.20,129.56 L160.00,130.33 L160.80,131.10 L161.60,131.87 L162.40,132.63 L163.20,133.39 L164.00,134.14 L164.80,134.90 L165.60,135.64 L166.40,136.39 L167.20,137.13 L168.00,137.86 L168.80,138.59 L169.60,139.32 L170.40,140.04 L171.20,140.76 L172.00,141.47 L172.80,142.18 L173.60,142.88 L174.40,143.58 L175.20,144.27 L176.00,144.96 L176.80,145.64 L177.60,146.32 L178.40,146.99 L179.20,147.66 L180.00,148.32 L180.80,148.98 L181.60,149.63 L182.40,150.28 L183.20,150.92 L184.00,151.56 L184.80,152.19 L185.60,152.82 L186.40,153.44 L187.20,154.06 L188.00,154.67 L188.80,155.28 L189.60,155.88 L190.40,156.47 L191.20,157.07 L192.00,157.65 L192.80,158.23 L193.60,158.81 L194.40,159.38 L195.20,159.95 L196.00,160.51 L196.80,161.07 L197.60,161.62 L198.40,162.17 L199.20,162.71 L200.00,163.25 L200.80,163.78 L201.60,164.31 L202.40,164.83 L203.20,165.35 L204.00,165.86 L204.80,166.37 L205.60,166.88 L206.40,167.38 L207.20,167.87 L208.00,168.37 L208.80,168.85 L209.60,169.34 L210.40,169.82 L211.20,170.29 L212.00,170.76 L212.80,171.23 L213.60,171.69 L214.40,172.15 L215.20,172.60 L216.00,173.05 L216.80,173.49 L217.60,173.94 L218.40,174.37 L219.20,174.81 L220.00,175.24 L220.80,175.66 L221.60,176.08 L222.40,176.50 L223.20,176.92 L224.00,177.33 L224.80,177.73 L225.60,178.14 L226.40,178.54 L227.20,178.93 L228.00,179.33 L228.80,179.72 L229.60,180.10 L230.40,180.48 L231.20,180.86 L232.00,181.24 L232.80,181.61 L233.60,181.98 L234.40,182.34 L235.20,182.71 L236.00,183.07 L236.80,183.42 L237.60,183.77 L238.40,184.12 L239.20,184.47 L240.00,184.81 L240.80,185.16 L241.60,185.49 L242.40,185.83 L243.20,186.16 L244.00,186.49 L244.80,186.81 L245.60,187.14 L246.40,187.46 L247.20,187.77 L248.00,188.09 L248.80,188.40 L249.60,188.71 L250.40,189.02 L251.20,189.32 L252.00,189.62 L252.80,189.92 L253.60,190.22 L254.40,190.51 L255.20,190.80 L256.00,191.09 L256.80,191.38 L257.60,191.66 L258.40,191.94 L259.20,192.22 L260.00,192.50 L260.80,192.77 L261.60,193.04 L262.40,193.31 L263.20,193.58 L264.00,193.84 L264.80,194.11 L265.60,194.37 L266.40,194.63 L267.20,194.88 L268.00,195.14 L268.80,195.39 L269.60,195.64 L270.40,195.89 L271.20,196.13 L272.00,196.38 L272.80,196.62 L273.60,196.86 L274.40,197.10 L275.20,197.33 L276.00,197.57 L276.80,197.80 L277.60,198.03 L278.40,198.26 L279.20,198.48 L280.00,198.71 L280.80,198.93 L281.60,199.15 L282.40,199.37 L283.20,199.59 L284.00,199.80 L284.80,200.02 L285.60,200.23 L286.40,200.44 L287.20,200.65 L288.00,200.86 L288.80,201.06 L289.60,201.27 L290.40,201.47 L291.20,201.67 L292.00,201.87 L292.80,202.07 L293.60,202.26 L294.40,202.46 L295.20,202.65 L296.00,202.84 L296.80,203.03 L297.60,203.22 L298.40,203.41 L299.20,203.59 L300.00,203.78 L300.80,203.96 L301.60,204.14 L302.40,204.32 L303.20,204.50 L304.00,204.68 L304.80,204.85 L305.60,205.03 L306.40,205.20 L307.20,205.37 L308.00,205.54 L308.80,205.71 L309.60,205.88 L310.40,206.05 L311.20,206.21 L312.00,206.38 L312.80,206.54 L313.60,206.70 L314.40,206.86 L315.20,207.02 L316.00,207.18 L316.80,207.34 L317.60,207.49 L318.40,207.65 L319.20,207.80 L320.00,207.95 L320.80,208.11 L321.60,208.26 L322.40,208.40 L323.20,208.55 L324.00,208.70 L324.80,208.85 L325.60,208.99 L326.40,209.13 L327.20,209.28 L328.00,209.42 L328.80,209.56 L329.60,209.70 L330.40,209.84 L331.20,209.98 L332.00,210.11 L332.80,210.25 L333.60,210.38 L334.40,210.52 L335.20,210.65 L336.00,210.78 L336.80,210.91 L337.60,211.04 L338.40,211.17 L339.20,211.30 L340.00,211.43 L340.80,211.56 L341.60,211.68 L342.40,211.81 L343.20,211.93 L344.00,212.05 L344.80,212.18 L345.60,212.30 L346.40,212.42 L347.20,212.54 L348.00,212.66 L348.80,212.78 L349.60,212.89 L350.40,213.01 L351.20,213.12 L352.00,213.24 L352.80,213.35 L353.60,213.47 L354.40,213.58 L355.20,213.69 L356.00,213.80 L356.80,213.91 L357.60,214.02 L358.40,214.13 L359.20,214.24 L360.00,214.35 L360.80,214.45 L361.60,214.56 L362.40,214.67 L362.90,214.73" stroke="#ffa500" stroke-width="1.8" stroke-dasharray="5.5 1.25 0.75 1.25"/>
</g>
<path d="M58.4,32.1H362.9V238.3H58.4ZM58.4,233.15h2.5M362.9,233.15h-2.5M58.4,227.99h2.5M362.9,227.99h-2.5M58.4,222.84h2.5M362.9,222.84h-2.5M58.4,217.68h2.5M362.9,217.68h-2.5M58.4,212.53h5M362.9,212.53h-5M58.4,207.37h2.5M362.9,207.37h-2.5M58.4,202.22h2.5M362.9,202.22h-2.5M58.4,197.06h2.5M362.9,197.06h-2.5M58.4,191.91h2.5M362.9,191.91h-2.5M58.4,186.75h5M362.9,186.75h-5M58.4,181.59h2.5M362.9,181.59h-2.5M58.4,176.44h2.5M362.9,176.44h-2.5M58.4,171.28h2.5M362.9,171.28h-2.5M58.4,166.13h2.5M362.9,166.13h-2.5M58.4,160.98h5M362.9,160.98h-5M58.4,155.82h2.5M362.9,155.82h-2.5M58.4,150.66h2.5M362.9,150.66h-2.5M58.4,145.51h2.5M362.9,145.51h-2.5M58.4,140.36h2.5M362.9,140.36h-2.5M58.4,135.20h5M362.9,135.20h-5M58.4,130.05h2.5M362.9,130.05h-2.5M58.4,124.89h2.5M362.9,124.89h-2.5M58.4,119.73h2.5M362.9,119.73h-2.5M58.4,114.58h2.5M362.9,114.58h-2.5M58.4,109.42h5M362.9,109.42h-5M58.4,104.27h2.5M362.9,104.27h-2.5M58.4,99.12h2.5M362.9,99.12h-2.5M58.4,93.96h2.5M362.9,93.96h-2.5M58.4,88.80h2.5M362.9,88.80h-2.5M58.4,83.65h5M362.9,83.65h-5M58.4,78.50h2.5M362.9,78.50h-2.5M58.4,73.34h2.5M362.9,73.34h-2.5M58.4,68.19h2.5M362.9,68.19h-2.5M58.4,63.03h2.5M362.9,63.03h-2.5M58.4,57.87h5M362.9,57.87h-5M58.4,52.72h2.5M362.9,52.72h-2.5M58.4,47.56h2.5M362.9,47.56h-2.5M58.4,42.41h2.5M362.9,42.41h-2.5M58.4,37.25h2.5M362.9,37.25h-2.5M74.82,238.3v-2.5M74.82,32.1v2.5M96.98,238.3v-2.5M96.98,32.1v2.5M119.14,238.3v-2.5M119.14,32.1v2.5M141.30,238.3v-5M141.30,32.1v5M163.46,238.3v-2.5M163.46,32.1v2.5M185.62,238.3v-2.5M185.62,32.1v2.5M207.78,238.3v-2.5M207.78,32.1v2.5M229.94,238.3v-2.5M229.94,32.1v2.5M252.10,238.3v-5M252.10,32.1v5M274.26,238.3v-2.5M274.26,32.1v2.5M296.42,238.3v-2.5M296.42,32.1v2.5M318.58,238.3v-2.5M318.58,32.1v2.5M340.74,238.3v-2.5M340.74,32.1v2.5" fill="none" stroke="#000" stroke-width="1"/>
<text x="52.0" y="241.80" font-size="10.4" text-anchor="end">0</text>
<text x="52.0" y="216.04" font-size="10.4" text-anchor="end">0.01</text>
<text x="52.0" y="190.29" font-size="10.4" text-anchor="end">0.02</text>
<text x="52.0" y="164.53" font-size="10.4" text-anchor="end">0.03</text>
<text x="52.0" y="138.78" font-size="10.4" text-anchor="end">0.04</text>
<text x="52.0" y="113.02" font-size="10.4" text-anchor="end">0.05</text>
<text x="52.0" y="87.26" font-size="10.4" text-anchor="end">0.06</text>
<text x="52.0" y="61.51" font-size="10.4" text-anchor="end">0.07</text>
<text x="52.0" y="35.75" font-size="10.4" text-anchor="end">0.08</text>
<text x="142.45" y="253.3" font-size="10.4" text-anchor="middle">2</text>
<text x="253.25" y="253.3" font-size="10.4" text-anchor="middle">4</text>
<text x="364.05" y="253.3" font-size="10.4" text-anchor="middle">6</text>
<text x="210.5" y="269" font-size="10.5" text-anchor="middle">E (GeV)</text>
<text x="170.5" y="18.9" font-size="10.4">NO<tspan dx="0.3" font-style="italic" font-size="11">ν</tspan><tspan dx="1.1">A[L=810 km]</tspan></text>
<g transform="translate(11.7,144.9) rotate(-90)"><text x="0" y="0" font-size="14">P</text><text x="10" y="3.5" font-size="9.3">μe</text><path d="M10.8,-3.05h3.6M15.5,-3.05h3.8" stroke="#000" stroke-width="0.7" fill="none"/></g>
<text x="312.4" y="47.2" font-size="10.4" text-anchor="end">270<tspan font-size="8.32" dy="-5.4">o</tspan><tspan dy="5.4">-NH-LO</tspan></text>
<path d="M319.7,42.4H349.8" stroke="#ff00ff" stroke-width="1.75" fill="none"/>
<text x="312.4" y="57.95" font-size="10.4" text-anchor="end">135<tspan font-size="8.32" dy="-5.4">o</tspan><tspan dy="5.4">-NH-HO</tspan></text>
<path d="M319.7,53.05H349.8" stroke="#00008b" stroke-width="1.7" fill="none" stroke-dasharray="1.55 2.26"/>
<text x="312.4" y="68.7" font-size="10.4" text-anchor="end">270<tspan font-size="8.32" dy="-5.4">o</tspan><tspan dy="5.4">-IH-HO</tspan></text>
<path d="M319.7,64.0H349.8" stroke="#ffa500" stroke-width="1.7" fill="none" stroke-dasharray="4.7 1.4 0.8 1.4"/>
</svg></div></body></html>
